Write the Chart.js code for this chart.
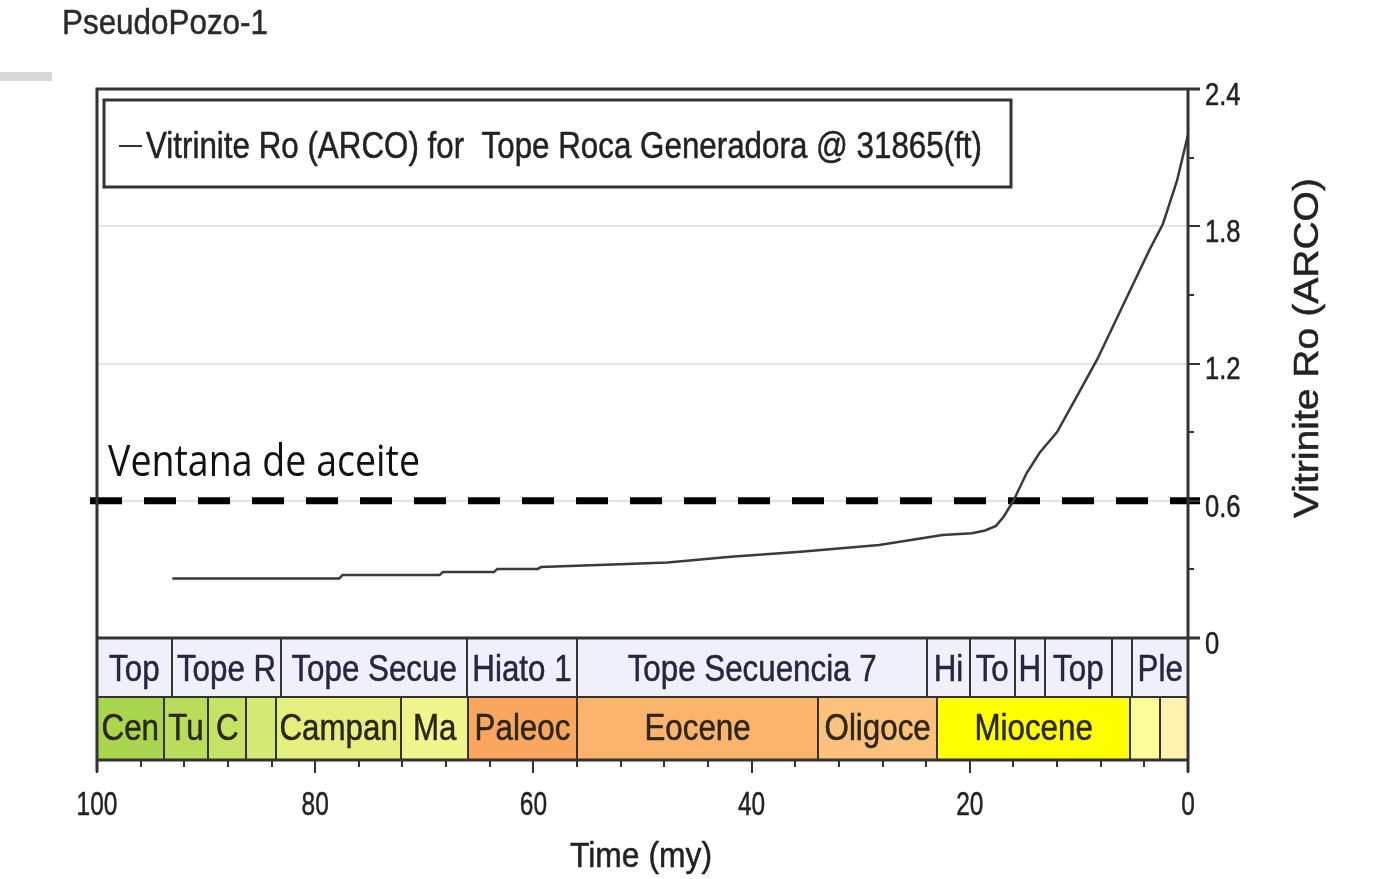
<!DOCTYPE html>
<html>
<head>
<meta charset="utf-8">
<script src="https://cdn.jsdelivr.net/npm/chart.js@4"></script>
<style>
  html, body { margin: 0; padding: 0; background: #fff; }
  #chart { display: block; }
</style>
</head>
<body>
<canvas id="chart" width="1384" height="879"></canvas>
<script>
// Burial history: vitrinite reflectance vs time (my before present)
const timeMy = [93.1, 77.8, 77.5, 68.6, 68.3, 63.6, 63.3, 59.6, 59.3, 52.1, 47.7, 41.9, 35.5, 28.3, 22.5, 19.8, 18.6, 17.6, 16.9, 16.0, 14.8, 13.6, 12.0, 10.2, 8.3, 6.0, 3.5, 2.3, 1.0, 0.0];
const vitriniteRo = [0.26, 0.26, 0.275, 0.275, 0.289, 0.289, 0.302, 0.302, 0.31, 0.322, 0.33, 0.355, 0.377, 0.407, 0.45, 0.458, 0.47, 0.49, 0.53, 0.6, 0.72, 0.81, 0.9, 1.055, 1.22, 1.45, 1.7, 1.81, 2.0, 2.2];

// Oil window threshold (Ro 0.6) and the span of the dashed line
const oilWindowRo = 0.6;
const oilWindowSpan = [100.64, -1.1];

// Formation row (boundaries in my, one more than names)
const formationNames = ["Top", "Tope R", "Tope Secue", "Hiato 1", "Tope Secuencia 7", "Hi", "To", "H", "Top", "", "Ple"];
const formationBounds = [100, 93.15, 83.1, 66.1, 56.0, 23.9, 20.0, 15.9, 13.1, 7.0, 5.1, 0];

// Epoch / stage row
const epochNames = ["Cen", "Tu", "C", "", "Campan", "Ma", "Paleoc", "Eocene", "Oligoce", "Miocene", "", ""];
const epochBounds = [100, 93.9, 89.8, 86.3, 83.6, 72.1, 66.0, 56.0, 33.9, 23.0, 5.3, 2.6, 0];
const epochColors = ["#a9d64e", "#b9dd5a", "#c7e366", "#d3ea74", "#e3f07f", "#f1f68c", "#fba65f", "#fcb46c", "#fdc17e", "#ffff00", "#ffff99", "#fff2ae"];

// Axis ticks
const xTicks = [100, 80, 60, 40, 20, 0];
const xMinorStep = 4;
const yTicks = [0, 0.6, 1.2, 1.8, 2.4];
const yMinorStep = 0.3;

const FONT = "'Liberation Sans', Arial, sans-serif";

function drawText(ctx, text, x, y, o) {
  ctx.save();
  ctx.font = o.font;
  ctx.fillStyle = o.color || "#222";
  ctx.textAlign = o.align || "left";
  ctx.textBaseline = "middle";
  const w = ctx.measureText(text).width;
  const s = o.width ? o.width / w : (o.sx || 1);
  ctx.translate(x, y);
  if (o.rotate) ctx.rotate(o.rotate);
  ctx.scale(s, 1);
  ctx.fillText(text, 0, 0);
  if (o.heavy) {
    ctx.strokeStyle = o.color || "#222";
    ctx.lineWidth = o.heavy;
    ctx.strokeText(text, 0, 0);
  }
  ctx.restore();
}

const decorPlugin = {
  id: "decor",
  beforeDatasetsDraw(chart) {
    const { ctx, chartArea: a, scales: { y } } = chart;
    ctx.save();
    ctx.strokeStyle = "#e4e4e4";
    ctx.lineWidth = 2;
    yTicks.forEach((v) => {
      if (v <= 0 || v >= 2.4) return;
      const py = Math.round(y.getPixelForValue(v));
      ctx.beginPath();
      ctx.moveTo(a.left, py);
      ctx.lineTo(a.right, py);
      ctx.stroke();
    });
    ctx.restore();
  },
  afterDatasetsDraw(chart) {
    const { ctx, chartArea: a, scales: { x, y } } = chart;
    const rowTop = a.bottom;
    const rowMid = a.bottom + 59;
    const rowBot = a.bottom + 122;

    ctx.save();

    // small grey bar top left
    ctx.fillStyle = "#d9d9d9";
    ctx.fillRect(0, 72, 52, 9);

    drawText(ctx, "PseudoPozo-1", 62, 24, { font: "35px " + FONT, color: "#2a2a2a", width: 206, heavy: 0.5 });

    // formation row
    for (let i = 0; i < formationNames.length; i++) {
      const x0 = x.getPixelForValue(formationBounds[i]);
      const x1 = x.getPixelForValue(formationBounds[i + 1]);
      ctx.fillStyle = "#f0f0fb";
      ctx.fillRect(x0, rowTop, x1 - x0, rowMid - rowTop);
      if (formationNames[i]) {
        ctx.save();
        ctx.beginPath();
        ctx.rect(x0, rowTop, x1 - x0, rowMid - rowTop);
        ctx.clip();
        drawText(ctx, formationNames[i], (x0 + x1) / 2, rowTop + 33, { font: "36px " + FONT, color: "#262640", align: "center", sx: 0.87, heavy: 0.5 });
        ctx.restore();
      }
    }
    // epoch row
    for (let i = 0; i < epochNames.length; i++) {
      const x0 = x.getPixelForValue(epochBounds[i]);
      const x1 = x.getPixelForValue(epochBounds[i + 1]);
      ctx.fillStyle = epochColors[i];
      ctx.fillRect(x0, rowMid, x1 - x0, rowBot - rowMid);
      if (epochNames[i]) {
        ctx.save();
        ctx.beginPath();
        ctx.rect(x0, rowMid, x1 - x0, rowBot - rowMid);
        ctx.clip();
        drawText(ctx, epochNames[i], (x0 + x1) / 2, rowMid + 33, { font: "36px " + FONT, color: "#2a2612", align: "center", sx: 0.87, heavy: 0.5 });
        ctx.restore();
      }
    }
    // row borders
    ctx.strokeStyle = "#333";
    ctx.lineWidth = 2;
    formationBounds.forEach((b) => {
      const px = Math.round(x.getPixelForValue(b));
      ctx.beginPath(); ctx.moveTo(px, rowTop); ctx.lineTo(px, rowMid); ctx.stroke();
    });
    epochBounds.forEach((b) => {
      const px = Math.round(x.getPixelForValue(b));
      ctx.beginPath(); ctx.moveTo(px, rowMid); ctx.lineTo(px, rowBot); ctx.stroke();
    });
    ctx.beginPath(); ctx.moveTo(a.left, rowMid); ctx.lineTo(a.right, rowMid); ctx.stroke();

    // frame
    ctx.strokeStyle = "#333";
    ctx.lineWidth = 3;
    ctx.beginPath();
    ctx.moveTo(a.left, rowBot + 12); ctx.lineTo(a.left, a.top); ctx.lineTo(a.right + 12, a.top);
    ctx.moveTo(a.right, a.top); ctx.lineTo(a.right, rowBot + 12);
    ctx.moveTo(a.left, rowTop); ctx.lineTo(a.right + 12, rowTop);
    ctx.moveTo(a.left, rowBot); ctx.lineTo(a.right, rowBot);
    ctx.stroke();

    // x ticks
    ctx.lineWidth = 2;
    for (let t = 0; t <= 100; t += xMinorStep) {
      const px = Math.round(x.getPixelForValue(t));
      const major = xTicks.includes(t);
      ctx.beginPath(); ctx.moveTo(px, rowBot); ctx.lineTo(px, rowBot + (major ? 13 : 7)); ctx.stroke();
    }
    xTicks.forEach((t) => {
      drawText(ctx, String(t), x.getPixelForValue(t), rowBot + 46, { font: "34px " + FONT, color: "#222", align: "center", sx: 0.72, heavy: 0.5 });
    });
    drawText(ctx, "Time (my)", 641, 857, { font: "35px " + FONT, color: "#222", align: "center", width: 142, heavy: 0.5 });

    // y ticks (right side)
    for (let k = 0; k <= 8; k++) {
      const v = k * yMinorStep;
      const py = Math.round(y.getPixelForValue(v));
      const major = k % 2 === 0;
      ctx.beginPath(); ctx.moveTo(a.right, py); ctx.lineTo(a.right + (major ? 12 : 6), py); ctx.stroke();
    }
    yTicks.forEach((v) => {
      drawText(ctx, v === 0 ? "0" : v.toFixed(1), a.right + 17, y.getPixelForValue(v) + 7, { font: "32px " + FONT, color: "#222", sx: 0.8, heavy: 0.5 });
    });
    drawText(ctx, "Vitrinite Ro (ARCO)", 1308, 348, { font: "35px " + FONT, color: "#222", align: "center", width: 340, rotate: -Math.PI / 2, heavy: 0.5 });

    // legend box
    ctx.strokeStyle = "#333";
    ctx.lineWidth = 3;
    ctx.strokeRect(104, 100, 907, 87);
    ctx.lineWidth = 2;
    ctx.beginPath(); ctx.moveTo(119, 146); ctx.lineTo(142, 146); ctx.stroke();
    drawText(ctx, "Vitrinite Ro (ARCO) for  Tope Roca Generadora @ 31865(ft)", 146, 148, { font: "36px " + FONT, color: "#222", width: 836, heavy: 0.5 });

    // oil window label
    drawText(ctx, "Ventana de aceite", 108, 463, { font: "44px 'Open Sans', 'Noto Sans', sans-serif", color: "#111", width: 312 });

    ctx.restore();
  }
};

new Chart(document.getElementById("chart"), {
  type: "line",
  data: {
    datasets: [
      {
        label: "Vitrinite Ro (ARCO) for Tope Roca Generadora @ 31865(ft)",
        data: timeMy.map((t, i) => ({ x: t, y: vitriniteRo[i] })),
        borderColor: "#3a3a3a",
        borderWidth: 2.5,
        pointRadius: 0,
        tension: 0,
      },
      {
        label: "Ventana de aceite",
        data: oilWindowSpan.map((t) => ({ x: t, y: oilWindowRo })),
        borderColor: "#000",
        borderWidth: 7,
        borderDash: [32, 22],
        pointRadius: 0,
        clip: false,
      },
    ],
  },
  options: {
    responsive: false,
    animation: false,
    layout: { padding: { left: 97, top: 89, right: 196, bottom: 241 } },
    plugins: { legend: { display: false }, tooltip: { enabled: false } },
    scales: {
      x: { type: "linear", min: 0, max: 100, reverse: true, display: false },
      y: { type: "linear", position: "right", min: 0, max: 2.4, display: false },
    },
  },
  plugins: [decorPlugin],
});
</script>
</body>
</html>
